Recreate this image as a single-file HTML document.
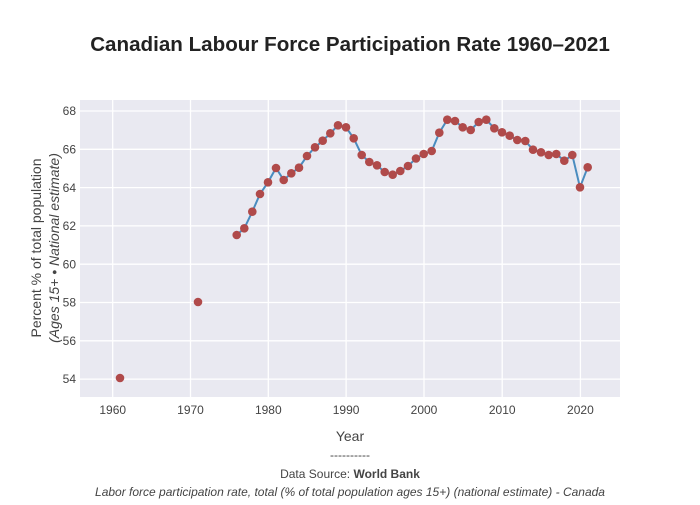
<!DOCTYPE html>
<html><head><meta charset="utf-8"><style>
html,body{margin:0;padding:0;background:#fff;}
body{width:700px;height:500px;overflow:hidden;font-family:"Liberation Sans",sans-serif;}
</style></head><body>
<svg width="700" height="500" xmlns="http://www.w3.org/2000/svg" font-family="Liberation Sans, DejaVu Sans, sans-serif">
<rect x="80" y="100" width="540" height="297" fill="#e9e9f1"/>
<g stroke="#fff" stroke-width="1.3">
<line x1="112.7" y1="100" x2="112.7" y2="397"/><line x1="190.5" y1="100" x2="190.5" y2="397"/>
<line x1="268.3" y1="100" x2="268.3" y2="397"/><line x1="346.1" y1="100" x2="346.1" y2="397"/>
<line x1="424" y1="100" x2="424" y2="397"/><line x1="502.2" y1="100" x2="502.2" y2="397"/>
<line x1="580.4" y1="100" x2="580.4" y2="397"/>
<line x1="80" y1="111" x2="620" y2="111"/><line x1="80" y1="149.3" x2="620" y2="149.3"/>
<line x1="80" y1="187.6" x2="620" y2="187.6"/><line x1="80" y1="225.9" x2="620" y2="225.9"/>
<line x1="80" y1="264.2" x2="620" y2="264.2"/><line x1="80" y1="302.5" x2="620" y2="302.5"/>
<line x1="80" y1="340.8" x2="620" y2="340.8"/><line x1="80" y1="379.1" x2="620" y2="379.1"/>
</g>
<g font-size="12" fill="#444" text-anchor="end">
<text x="76" y="115">68</text><text x="76" y="153.5">66</text><text x="76" y="192">64</text>
<text x="76" y="230">62</text><text x="76" y="268.5">60</text><text x="76" y="306.5">58</text>
<text x="76" y="345">56</text><text x="76" y="383">54</text>
</g>
<g font-size="12" fill="#444" text-anchor="middle">
<text x="112.7" y="414">1960</text><text x="190.5" y="414">1970</text><text x="268.3" y="414">1980</text>
<text x="346.1" y="414">1990</text><text x="424" y="414">2000</text><text x="502.2" y="414">2010</text>
<text x="580.4" y="414">2020</text>
</g>
<polyline fill="none" stroke="#4a8cbf" stroke-width="2" points="236.7,235 244.3,228.3 252.3,211.7 260,194 268,182.3 276,168 283.7,180 291.3,173.3 299,167.7 307,156 315,147.3 322.7,140.7 330.3,133.3 338,125.3 346,127.3 353.7,138.3 361.7,155 369.3,162 377,165.3 384.7,172 392.7,174.7 400.3,171 408,166 416,158.5 423.7,154 431.7,151 439.3,132.7 447.3,119.7 455,121 462.7,127.3 470.7,130 478.7,122 486.3,119.7 494.3,128.3 502,132.3 509.7,135.7 517.3,140 525.3,141 533,149.7 541,152.3 548.7,155 556.3,154 564.3,160.7 572.3,155 580,187.3 587.7,167.3"/>
<g fill="#b04a4a">
<circle cx="120" cy="378" r="4.3"/><circle cx="198" cy="302" r="4.3"/>
<circle cx="236.7" cy="235" r="4.3"/><circle cx="244.3" cy="228.3" r="4.3"/><circle cx="252.3" cy="211.7" r="4.3"/><circle cx="260" cy="194" r="4.3"/><circle cx="268" cy="182.3" r="4.3"/><circle cx="276" cy="168" r="4.3"/><circle cx="283.7" cy="180" r="4.3"/><circle cx="291.3" cy="173.3" r="4.3"/><circle cx="299" cy="167.7" r="4.3"/><circle cx="307" cy="156" r="4.3"/><circle cx="315" cy="147.3" r="4.3"/><circle cx="322.7" cy="140.7" r="4.3"/><circle cx="330.3" cy="133.3" r="4.3"/><circle cx="338" cy="125.3" r="4.3"/><circle cx="346" cy="127.3" r="4.3"/><circle cx="353.7" cy="138.3" r="4.3"/><circle cx="361.7" cy="155" r="4.3"/><circle cx="369.3" cy="162" r="4.3"/><circle cx="377" cy="165.3" r="4.3"/><circle cx="384.7" cy="172" r="4.3"/><circle cx="392.7" cy="174.7" r="4.3"/><circle cx="400.3" cy="171" r="4.3"/><circle cx="408" cy="166" r="4.3"/><circle cx="416" cy="158.5" r="4.3"/><circle cx="423.7" cy="154" r="4.3"/><circle cx="431.7" cy="151" r="4.3"/><circle cx="439.3" cy="132.7" r="4.3"/><circle cx="447.3" cy="119.7" r="4.3"/><circle cx="455" cy="121" r="4.3"/><circle cx="462.7" cy="127.3" r="4.3"/><circle cx="470.7" cy="130" r="4.3"/><circle cx="478.7" cy="122" r="4.3"/><circle cx="486.3" cy="119.7" r="4.3"/><circle cx="494.3" cy="128.3" r="4.3"/><circle cx="502" cy="132.3" r="4.3"/><circle cx="509.7" cy="135.7" r="4.3"/><circle cx="517.3" cy="140" r="4.3"/><circle cx="525.3" cy="141" r="4.3"/><circle cx="533" cy="149.7" r="4.3"/><circle cx="541" cy="152.3" r="4.3"/><circle cx="548.7" cy="155" r="4.3"/><circle cx="556.3" cy="154" r="4.3"/><circle cx="564.3" cy="160.7" r="4.3"/><circle cx="572.3" cy="155" r="4.3"/><circle cx="580" cy="187.3" r="4.3"/><circle cx="587.7" cy="167.3" r="4.3"/>
</g>
<text x="350" y="51" font-size="20.6" font-weight="bold" fill="#222" text-anchor="middle">Canadian Labour Force Participation Rate 1960–2021</text>
<text x="350" y="441" font-size="14" fill="#444" text-anchor="middle">Year</text>
<text x="350" y="459" font-size="12" fill="#444" text-anchor="middle">----------</text>
<text x="350" y="478" font-size="12" fill="#444" text-anchor="middle">Data Source: <tspan font-weight="bold">World Bank</tspan></text>
<text x="350" y="496" font-size="12" fill="#444" text-anchor="middle" font-style="italic">Labor force participation rate, total (% of total population ages 15+) (national estimate) - Canada</text>
<g transform="translate(41,248) rotate(-90)"><text x="0" y="0" font-size="14" fill="#444" text-anchor="middle">Percent % of total population</text></g>
<g transform="translate(59,248) rotate(-90)"><text x="0" y="0" font-size="14" fill="#444" text-anchor="middle" font-style="italic">(Ages 15+ • National estimate)</text></g>
</svg>
</body></html>
